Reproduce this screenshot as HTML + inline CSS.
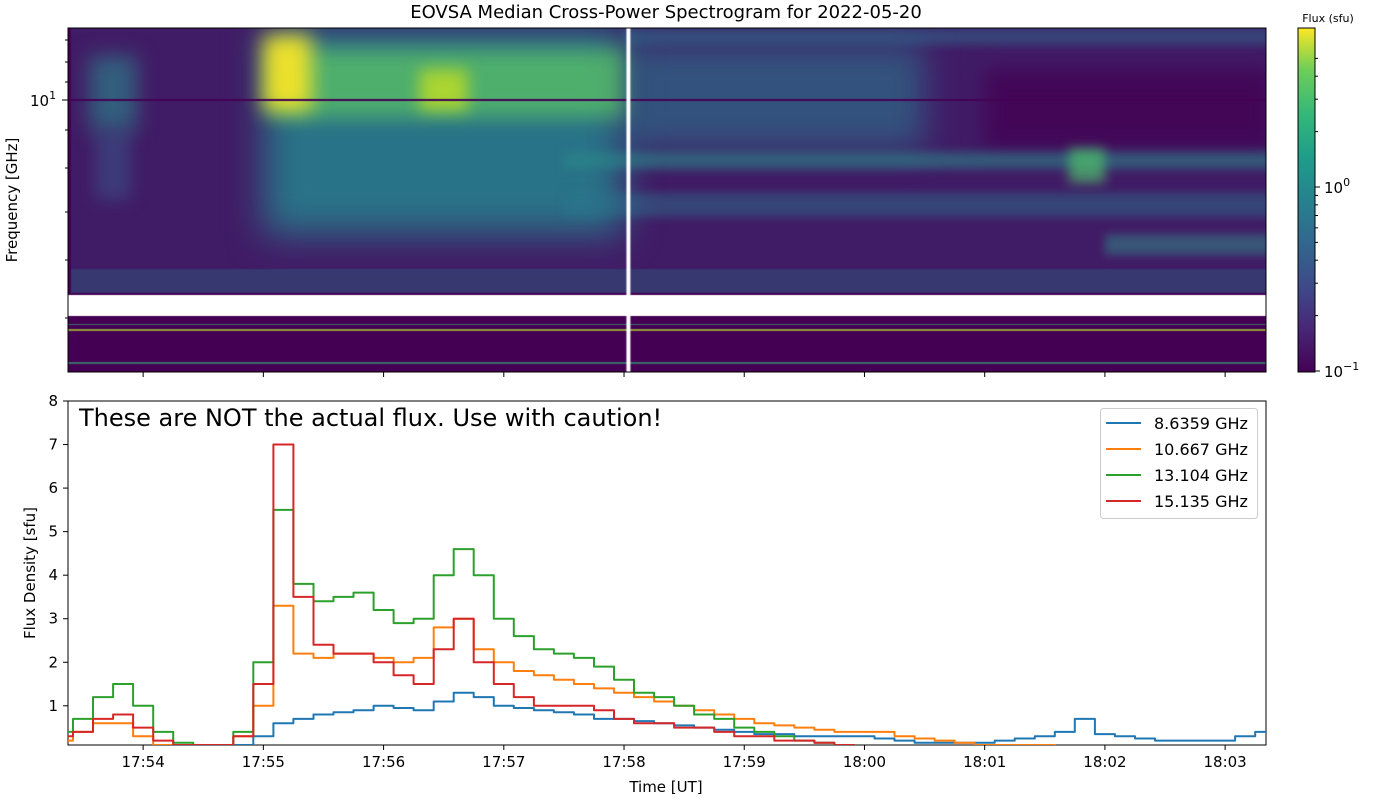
<!DOCTYPE html>
<html><head><meta charset="utf-8">
<style>
html,body{margin:0;padding:0;background:#fff;}
body{width:1400px;height:800px;overflow:hidden;position:relative;font-family:"Liberation Sans","DejaVu Sans",sans-serif;}
svg text{font-family:"DejaVu Sans","Liberation Sans",sans-serif;fill:#000;}
#spec{position:absolute;left:68px;top:28px;}
</style></head>
<body>
<canvas id="spec" width="1198" height="344"></canvas>
<svg id="chart" width="1400" height="800" style="position:absolute;left:0;top:0">
<defs>
<linearGradient id="viridis" x1="0" y1="1" x2="0" y2="0">
<stop offset="0" stop-color="#440154"/><stop offset="0.13" stop-color="#482878"/><stop offset="0.25" stop-color="#3e4a89"/><stop offset="0.38" stop-color="#31688e"/><stop offset="0.5" stop-color="#26828e"/><stop offset="0.63" stop-color="#1f9e89"/><stop offset="0.75" stop-color="#35b779"/><stop offset="0.88" stop-color="#6ece58"/><stop offset="1" stop-color="#fde725"/>
</linearGradient>
<clipPath id="lineclip"><rect x="68" y="401" width="1198" height="344"/></clipPath>
</defs>
<text x="666" y="18" font-size="18" text-anchor="middle">EOVSA Median Cross-Power Spectrogram for 2022-05-20</text>
<rect x="68" y="28" width="1198" height="344" fill="none" stroke="#000" stroke-width="1"/>
<g id="topticks"></g>
<text transform="translate(17,200) rotate(-90)" font-size="15" text-anchor="middle">Frequency [GHz]</text>
<text x="30" y="106" font-size="15">10<tspan font-size="11" dy="-7">1</tspan></text>
<rect x="1298" y="28" width="17" height="344" fill="url(#viridis)" stroke="#000" stroke-width="1"/>
<text x="1328" y="22" font-size="11" text-anchor="middle">Flux (sfu)</text>
<line x1="1315" y1="187" x2="1320" y2="187" stroke="#000"/>
<line x1="1315" y1="371" x2="1320" y2="371" stroke="#000"/>
<g id="cbminor"></g>
<text x="1324" y="193" font-size="15">10<tspan font-size="11" dy="-7">0</tspan></text>
<text x="1324" y="377" font-size="15">10<tspan font-size="11" dy="-7">−1</tspan></text>
<rect x="68" y="401" width="1198" height="344" fill="#fff" stroke="#000" stroke-width="1"/>
<text x="79" y="426" font-size="24">These are NOT the actual flux. Use with caution!</text>
<g id="axes2"></g>
<g id="lines" clip-path="url(#lineclip)"></g>
<text transform="translate(35,573) rotate(-90)" font-size="15" text-anchor="middle">Flux Density [sfu]</text>
<text x="666" y="792" font-size="15" text-anchor="middle">Time [UT]</text>
<g>
<rect x="1100.5" y="408.5" width="157" height="110" rx="3" fill="#fff" stroke="#ccc"/>
<g id="legend"></g>
</g>
</svg>
<script>
// ---- data ----
const tickLabels = ["17:54","17:55","17:56","17:57","17:58","17:59","18:00","18:01","18:02","18:03"];
const tickMinutes = [54,55,56,57,58,59,60,61,62,63];
const yTicks = [1,2,3,4,5,6,7,8];
const seriesNames = ["8.6359 GHz","10.667 GHz","13.104 GHz","15.135 GHz"];
const seriesColors = ["#1f77b4","#ff7f0e","#2ca02c","#d62728"];
const tStart = 53 + 20/60; // 17:53:20, 10 s steps
const tStep = 10/60;
const blue = [0.05,0.05,0.05,0.05,0.05,0.05,0.05,0.05,0.05,0.1,0.3,0.6,0.7,0.8,0.85,0.9,1.0,0.95,0.9,1.1,1.3,1.2,1.0,0.95,0.9,0.85,0.8,0.7,0.7,0.65,0.6,0.55,0.5,0.45,0.4,0.35,0.35,0.3,0.3,0.3,0.3,0.25,0.2,0.15,0.15,0.15,0.15,0.2,0.25,0.3,0.4,0.7,0.35,0.3,0.25,0.2,0.2,0.2,0.2,0.3,0.4];
const orange = [0.2,0.4,0.6,0.6,0.3,0.1,0.05,0.05,0.05,0.3,1.0,3.3,2.2,2.1,2.2,2.2,2.1,2.0,2.1,2.8,3.0,2.3,2.0,1.8,1.7,1.6,1.5,1.4,1.3,1.2,1.1,1.0,0.9,0.8,0.7,0.6,0.55,0.5,0.45,0.4,0.4,0.4,0.3,0.25,0.2,0.15,0.1,0.1,0.1,0.1,0.05,0.05,0.05,0.05,0.05,0.05,0.05,0.05,0.05,0.05,0.05];
const green = [0.4,0.7,1.2,1.5,1.0,0.4,0.15,0.1,0.1,0.4,2.0,5.5,3.8,3.4,3.5,3.6,3.2,2.9,3.0,4.0,4.6,4.0,3.0,2.6,2.3,2.2,2.1,1.9,1.6,1.3,1.2,1.0,0.8,0.7,0.5,0.4,0.3,0.2,0.15,0.1,0.05,0.05,0.05,0.05,0.05,0.05,0.05,0.05,0.05,0.05,0.05,0.05,0.05,0.05,0.05,0.05,0.05,0.05,0.05,0.05,0.05];
const red = [0.3,0.4,0.7,0.8,0.5,0.2,0.1,0.1,0.1,0.3,1.5,7.0,3.5,2.4,2.2,2.2,2.0,1.7,1.5,2.3,3.0,2.0,1.5,1.2,1.0,1.0,1.0,0.9,0.7,0.6,0.6,0.5,0.5,0.4,0.3,0.3,0.2,0.2,0.15,0.1,0.05,0.05,0.05,0.05,0.05,0.05,0.05,0.05,0.05,0.05,0.05,0.05,0.05,0.05,0.05,0.05,0.05,0.05,0.05,0.05,0.05];
const allSeries = [blue,orange,green,red];
// spectrogram features: [tStart, tEnd (minutes after 17:00), yTop, yBottom (fraction of panel), colour, alpha, blur]
const specFeatures = [
 [53.4,63.4,0.0,0.70,"#3b4f8a",0.35,0],
 [58.0,63.4,0.0,0.05,"#2f6c8e",0.5,4],
 [61.0,63.4,0.12,0.35,"#440154",0.8,10],
 [55.0,58.0,0.0,0.60,"#26828e",0.85,18],
 [58.0,60.5,0.05,0.35,"#2a788e",0.6,16],
 [55.05,58.0,0.06,0.26,"#5ec962",0.7,10],
 [55.0,55.4,0.02,0.24,"#fde725",0.9,10],
 [56.3,56.7,0.12,0.24,"#c2df23",0.8,8],
 [53.55,53.95,0.08,0.30,"#2a8a8c",0.6,10],
 [53.6,53.9,0.30,0.50,"#3a5a8c",0.5,8],
 [57.5,63.4,0.36,0.41,"#2a8a8a",0.55,4],
 [61.7,62.0,0.35,0.45,"#4ec36b",0.7,6],
 [57.5,63.4,0.48,0.55,"#2a788e",0.45,4],
 [62.0,63.4,0.60,0.66,"#2f8f8a",0.5,4],
 [53.4,63.4,0.70,0.77,"#2c6f8e",0.5,0],
 [53.4,63.4,0.92,1.0,"#440154",1,0]
];
// ---- axes ----
const X0=68,X1=1266,TMIN=53.375,TMAX=63.34;
function xs(m){return X0+(m-TMIN)/(TMAX-TMIN)*(X1-X0);}
const Y0=401,Y1=745,VMIN=0.1,VMAX=8;
function ys(v){return Y1-(v-VMIN)/(VMAX-VMIN)*(Y1-Y0);}
const NS="http://www.w3.org/2000/svg";
function mk(tag,attrs,parent,txt){const e=document.createElementNS(NS,tag);for(const k in attrs)e.setAttribute(k,attrs[k]);if(txt!==undefined)e.textContent=txt;parent.appendChild(e);return e;}
const topG=document.getElementById('topticks'),ax2=document.getElementById('axes2');
tickMinutes.forEach((m,i)=>{
 const x=xs(m);
 const t1=mk('line',{x1:x,y1:372,x2:x,y2:377,stroke:'#000'},topG);
 
 
 const t2=mk('line',{x1:x,y1:745,x2:x,y2:750,stroke:'#000'},ax2);
 
 
 const lb=mk('text',{x:x,y:767,'font-size':15,'text-anchor':'middle'},ax2,tickLabels[i]);
 
 
});
yTicks.forEach(v=>{
 const y=ys(v);
 const t=mk('line',{x1:63,y1:y,x2:68,y2:y,stroke:'#000'},ax2);
 
 
 const lb=mk('text',{x:58,y:y+5,'font-size':15,'text-anchor':'end'},ax2,String(v));
 
 
});
[[100,6],[40,3],[62,3],[82,3],[130,3],[168,3],[212,3],[260,3],[318,3]].forEach(d=>{
 mk('line',{x1:68-d[1],y1:d[0],x2:68,y2:d[0],stroke:'#000'},topG);
});
const cbm=document.getElementById('cbminor');
[2,3,4,5,6,7,8,9].forEach(k=>{mk('line',{x1:1315,y1:371-184*Math.log10(k),x2:1318,y2:371-184*Math.log10(k),stroke:'#000'},cbm);});
[2,3,4,5].forEach(k=>{mk('line',{x1:1315,y1:187-184*Math.log10(k),x2:1318,y2:187-184*Math.log10(k),stroke:'#000'},cbm);});
// lines (steps centred on sample times)
const linesG=document.getElementById('lines');
allSeries.forEach((s,si)=>{
 let d='';
 s.forEach((v,i)=>{
  const tc=tStart+i*tStep;
  const xa=xs(tc-tStep/2), xb=xs(tc+tStep/2), y=ys(v);
  d+=(i===0?'M':'L')+xa.toFixed(1)+','+y.toFixed(1)+'L'+xb.toFixed(1)+','+y.toFixed(1);
 });
 const p=mk('path',{d:d,fill:'none',stroke:seriesColors[si],'stroke-width':2,'stroke-linejoin':'round'},linesG);
 
 
});
const lg=document.getElementById('legend');
seriesNames.forEach((n,i)=>{
 const y=423+i*26;
 const l=mk('line',{x1:1106,y1:y,x2:1141,y2:y,stroke:seriesColors[i],'stroke-width':2},lg);
 
 
 const t=mk('text',{x:1154,y:y+6,'font-size':16},lg,n);
 
 
});
// spectrogram
const cv=document.getElementById('spec'),ctx=cv.getContext('2d');
const W=1198,H=344;
ctx.fillStyle='#440154';ctx.fillRect(0,0,W,H);
specFeatures.forEach(f=>{
 const x0=xs(f[0])-X0,x1=xs(f[1])-X0;
 ctx.save();
 ctx.globalAlpha=f[5];
 ctx.filter=f[6]?('blur('+f[6]+'px)'):'none';
 ctx.fillStyle=f[4];
 ctx.fillRect(x0,f[2]*H,x1-x0,(f[3]-f[2])*H);
 ctx.restore();
});
ctx.filter='none';
ctx.fillStyle='#b5de2b';ctx.globalAlpha=0.7;ctx.fillRect(0,301,W,2);
ctx.fillStyle='#35b779';ctx.globalAlpha=0.6;ctx.fillRect(0,296,W,1);ctx.fillRect(0,334,W,2);
ctx.globalAlpha=1;
ctx.fillStyle='#440154';ctx.fillRect(0,71,W,2);
ctx.fillStyle='#fff';
ctx.fillRect(0,267,W,21);
ctx.fillRect(xs(58.02)-X0,0,4,H);
</script>
</body></html>
